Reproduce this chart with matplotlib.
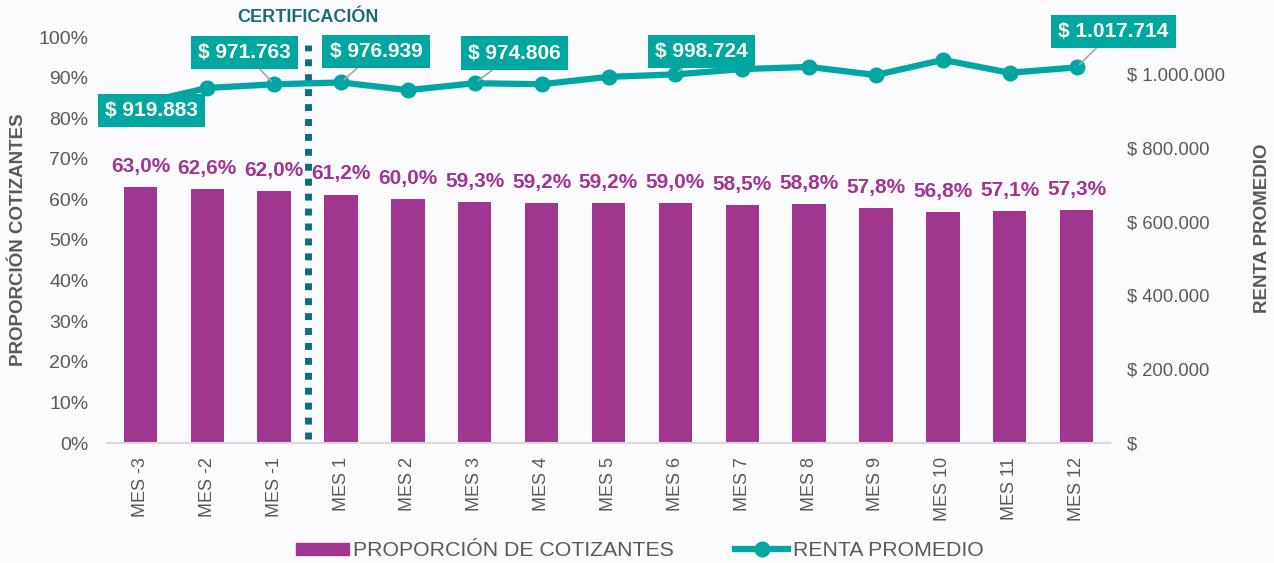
import matplotlib
matplotlib.use("Agg")
import matplotlib.pyplot as plt
from matplotlib.ticker import FuncFormatter
from matplotlib.lines import Line2D
from matplotlib.patches import Patch

plt.rcParams['font.family'] = ['Liberation Sans', 'DejaVu Sans']

meses = ["MES -3", "MES -2", "MES -1", "MES 1", "MES 2", "MES 3", "MES 4", "MES 5",
         "MES 6", "MES 7", "MES 8", "MES 9", "MES 10", "MES 11", "MES 12"]
proporcion = [63.0, 62.6, 62.0, 61.2, 60.0, 59.3, 59.2, 59.2, 59.0, 58.5, 58.8, 57.8, 56.8, 57.1, 57.3]
renta = [919883, 962000, 971763, 976939, 956000, 974806, 972000, 992000, 998724,
         1013000, 1019000, 997000, 1038000, 1003000, 1017714]

# puntos de la renta con etiqueta, y desplazamiento de la caja (pixeles)
etiquetas_idx = [0, 2, 3, 5, 8, 14]
etiquetas_off = [(11, -7), (-30, 32), (35, 31), (40, 30), (26, 23), (37, 36)]

morado = '#A0368F'
verde = '#00A7A2'
gris = '#595959'
fondo = '#FBFAFD'

fig = plt.figure(figsize=(12.74, 5.63), dpi=100, facecolor=fondo)
ax = fig.add_axes([107 / 1274, 120 / 563, 1003 / 1274, 406 / 563])
ax.set_facecolor(fondo)
ax2 = ax.twinx()

x = list(range(len(meses)))
bars = ax.bar(x, proporcion, width=0.5, color=morado, zorder=2)
for xi, v in zip(x, proporcion):
    ax.annotate(f"{v:.1f}%".replace('.', ','), (xi, v), xytext=(0, 8), textcoords='offset points',
                ha='center', va='bottom', fontsize=15, fontweight='bold', color=morado)

ax.set_xlim(-0.5, len(meses) - 0.5)
ax.set_ylim(0, 100)
ax.set_yticks(range(0, 101, 10))
ax.yaxis.set_major_formatter(FuncFormatter(lambda v, p: f"{v:.0f}%"))
ax.set_xticks(x)
ax.set_xticklabels(meses, rotation=90)
ax.tick_params(axis='x', length=0, pad=10, labelsize=13, labelcolor=gris)
ax.tick_params(axis='y', length=0, pad=13.5, labelsize=14, labelcolor=gris)
for s in ['top', 'left', 'right']:
    ax.spines[s].set_visible(False)
ax.spines['bottom'].set_color('#D9D9D9')
ax.spines['bottom'].set_linewidth(1.5)
ax.set_ylabel("PROPORCIÓN COTIZANTES", fontsize=13.5, fontweight='bold', color=gris)
ax.yaxis.set_label_coords(-0.080, 0.5)

# linea de certificacion
ax.axvline(2.5, ymin=0.01, ymax=0.98, color='#0E6F7B', lw=5, linestyle=(0, (1, 1.15)), zorder=3)
ax.text(2.5, 1.049, "CERTIFICACIÓN", transform=ax.get_xaxis_transform(), ha='center', va='center',
        fontsize=13, fontweight='bold', color='#1D6B74')

ax2.plot(x, renta, color=verde, lw=4.5, marker='o', markersize=10.5, zorder=3)
ax2.set_ylim(0, 1100000)
ax2.set_yticks(range(0, 1000001, 200000))
ax2.yaxis.set_major_formatter(FuncFormatter(
    lambda v, p: f"$ {v:,.0f}".replace(',', '.') if v else "$"))
ax2.tick_params(axis='y', length=0, pad=12, labelsize=13.3, labelcolor=gris)
for s in ['top', 'left', 'right', 'bottom']:
    ax2.spines[s].set_visible(False)
ax2.set_ylabel("RENTA PROMEDIO", fontsize=13.5, fontweight='bold', color=gris)
ax2.yaxis.set_label_coords(1.1436, 0.53)

for i, (dx, dy) in zip(etiquetas_idx, etiquetas_off):
    ax2.annotate(f"$ {renta[i]:,.0f}".replace(',', '.'), (i, renta[i]),
                 xytext=(dx * 0.72, dy * 0.72), textcoords='offset points',
                 ha='center', va='center', fontsize=15, fontweight='bold', color='white',
                 bbox=dict(boxstyle='square,pad=0.35', fc='#00A6A0', ec='none'),
                 arrowprops=dict(arrowstyle='-', color='#A6A6A6', lw=1.2, shrinkA=0, shrinkB=3),
                 zorder=5)

handles = [Patch(color=morado, label="PROPORCIÓN DE COTIZANTES"),
           Line2D([], [], color=verde, lw=4.5, marker='o', markersize=10.5, label="RENTA PROMEDIO")]
fig.legend(handles=handles, loc='center', bbox_to_anchor=(0.502, 0.022), ncol=2, frameon=False,
           fontsize=15.3, labelcolor=gris, handlelength=2.5, handleheight=0.5,
           handletextpad=0.2, columnspacing=2.9)

fig.savefig("out.png", dpi=100, facecolor=fondo)
